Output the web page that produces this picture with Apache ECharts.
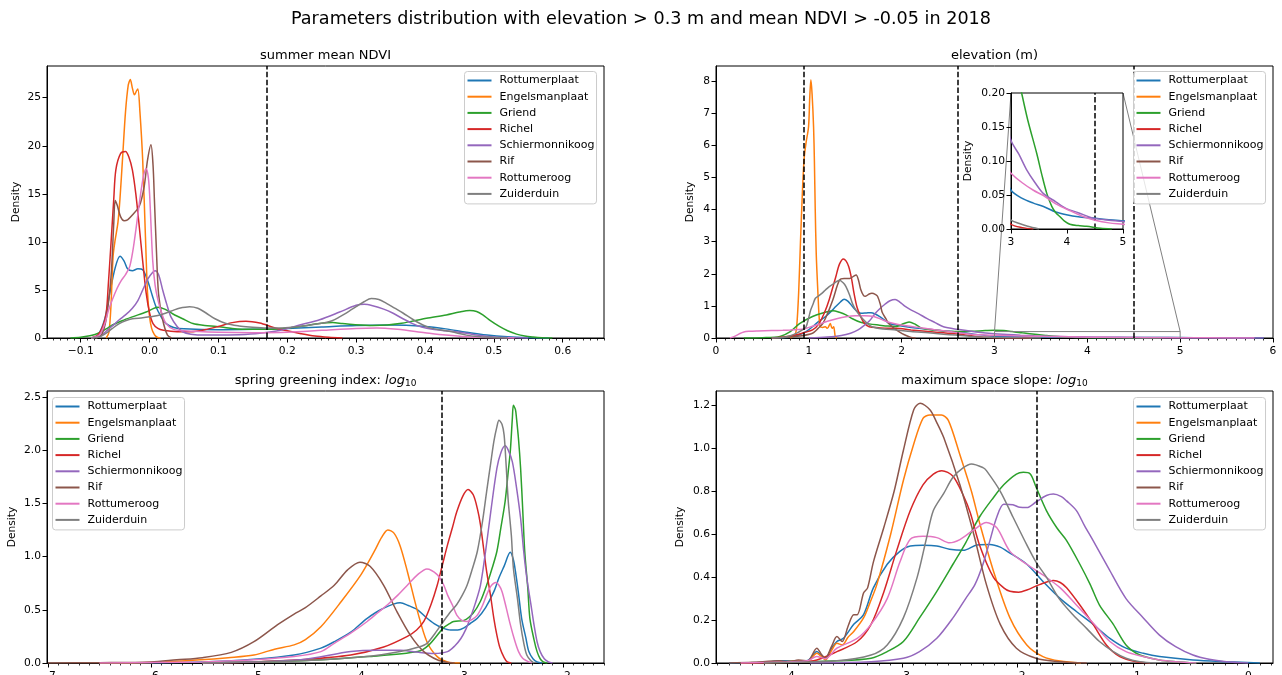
<!DOCTYPE html>
<html><head><meta charset="utf-8">
<script src="https://cdn.jsdelivr.net/npm/echarts@6/dist/echarts.min.js"></script>
<style>html,body{margin:0;padding:0;background:#fff}#c{width:1282px;height:675px}</style>
</head><body><div id="c"></div>
<script>
const FONT = 'DejaVu Sans';
const NAMES = ['Rottumerplaat','Engelsmanplaat','Griend','Richel','Schiermonnikoog','Rif','Rottumeroog','Zuiderduin'];
const COLORS = ['#1f77b4','#ff7f0e','#2ca02c','#d62728','#9467bd','#8c564b','#e377c2','#7f7f7f'];
const SUPTITLE = 'Parameters distribution with elevation > 0.3 m and mean NDVI > -0.05 in 2018';

// ---------- summer mean NDVI ----------
const NDVI_ROTTUMERPLAAT = [[-0.085,0],[-0.075,0.3],[-0.065,2.0],[-0.058,4.6],[-0.05,7.3],[-0.043,8.5],[-0.037,8.0],[-0.032,7.2],[-0.025,7.0],[-0.017,7.2],[-0.01,7.1],[-0.003,6.0],[0.004,4.4],[0.009,3.3],[0.016,2.3],[0.024,1.5],[0.035,1.1],[0.05,0.95],[0.1,0.85],[0.15,0.9],[0.2,1.0],[0.25,1.15],[0.3,1.3],[0.35,1.35],[0.4,1.2],[0.43,0.95],[0.46,0.6],[0.49,0.3],[0.52,0.12],[0.55,0.03],[0.58,0]];
const NDVI_ENGELSMANPLAAT = [[-0.063,0],[-0.059,0.6],[-0.056,3.5],[-0.053,8.5],[-0.05,10.2],[-0.046,12.0],[-0.043,14.5],[-0.039,19.0],[-0.035,23.5],[-0.031,26.3],[-0.028,26.9],[-0.025,26.0],[-0.022,25.3],[-0.019,25.7],[-0.017,25.9],[-0.014,23.5],[-0.01,18.5],[-0.006,10.5],[-0.003,4.7],[0.0,2.2],[0.003,1.0],[0.007,0.35],[0.011,0.08],[0.016,0]];
const NDVI_GRIEND = [[-0.115,0],[-0.1,0.08],[-0.085,0.25],[-0.073,0.55],[-0.063,0.95],[-0.054,1.35],[-0.04,1.8],[-0.025,2.2],[-0.005,2.7],[0.012,3.2],[0.022,3.0],[0.034,2.5],[0.048,2.0],[0.063,1.5],[0.08,1.3],[0.097,1.2],[0.12,1.0],[0.145,0.9],[0.17,0.9],[0.193,1.0],[0.218,1.2],[0.247,1.5],[0.266,1.6],[0.28,1.5],[0.295,1.4],[0.324,1.3],[0.345,1.35],[0.363,1.5],[0.385,1.8],[0.402,2.05],[0.431,2.4],[0.45,2.7],[0.465,2.85],[0.475,2.75],[0.484,2.4],[0.495,1.8],[0.508,1.2],[0.52,0.75],[0.533,0.4],[0.545,0.2],[0.557,0.1],[0.57,0.03],[0.585,0]];
const NDVI_RICHEL = [[-0.085,0],[-0.075,0.3],[-0.068,1.2],[-0.063,2.6],[-0.06,5.5],[-0.056,9.9],[-0.052,14.5],[-0.049,17.5],[-0.042,19.2],[-0.035,19.4],[-0.03,18.8],[-0.025,17.5],[-0.02,15.0],[-0.015,11.6],[-0.01,8.0],[-0.005,4.7],[0.0,2.6],[0.005,1.5],[0.012,1.0],[0.02,0.8],[0.04,0.65],[0.06,0.65],[0.08,0.85],[0.1,1.2],[0.12,1.6],[0.14,1.75],[0.16,1.55],[0.18,1.1],[0.2,0.75],[0.22,0.45],[0.24,0.2],[0.26,0.07],[0.28,0]];
const NDVI_SCHIERMONNIKOOG = [[-0.085,0],[-0.07,0.3],[-0.06,0.9],[-0.05,1.5],[-0.044,1.9],[-0.035,2.4],[-0.025,3.1],[-0.017,3.9],[-0.01,5.0],[-0.002,6.2],[0.004,6.8],[0.008,7.0],[0.013,6.6],[0.019,5.0],[0.025,3.5],[0.031,2.2],[0.04,1.2],[0.048,0.65],[0.06,0.4],[0.08,0.3],[0.1,0.3],[0.13,0.35],[0.16,0.5],[0.19,0.8],[0.218,1.35],[0.247,1.9],[0.276,2.7],[0.3,3.4],[0.312,3.5],[0.324,3.35],[0.34,3.0],[0.353,2.6],[0.368,2.0],[0.382,1.5],[0.395,1.15],[0.411,0.9],[0.43,0.75],[0.445,0.65],[0.46,0.5],[0.475,0.3],[0.5,0.1],[0.53,0.02],[0.55,0]];
const NDVI_RIF = [[-0.078,0],[-0.07,0.3],[-0.063,2.0],[-0.056,6.4],[-0.052,12.0],[-0.05,14.3],[-0.047,13.8],[-0.042,12.6],[-0.037,12.2],[-0.032,12.3],[-0.025,12.8],[-0.015,13.7],[-0.008,15.7],[-0.003,18.5],[0.002,20.1],[0.005,18.0],[0.007,14.4],[0.01,9.0],[0.013,4.6],[0.019,1.9],[0.026,0.3],[0.032,0]];
const NDVI_ROTTUMEROOG = [[-0.085,0],[-0.073,0.3],[-0.065,1.5],[-0.06,2.8],[-0.054,4.0],[-0.047,5.2],[-0.041,6.0],[-0.035,6.6],[-0.029,7.4],[-0.024,9.2],[-0.02,11.2],[-0.014,14.5],[-0.009,16.8],[-0.005,17.6],[-0.002,16.8],[0.0,15.0],[0.0045,8.1],[0.008,5.5],[0.012,4.0],[0.018,2.5],[0.024,1.5],[0.035,0.9],[0.05,0.75],[0.1,0.6],[0.15,0.55],[0.2,0.6],[0.25,0.8],[0.3,1.0],[0.33,1.05],[0.36,0.9],[0.4,0.55],[0.43,0.3],[0.46,0.12],[0.5,0.03],[0.53,0]];
const NDVI_ZUIDERDUIN = [[-0.085,0],[-0.073,0.1],[-0.063,0.5],[-0.054,1.0],[-0.044,1.5],[-0.035,1.8],[-0.025,2.0],[-0.01,2.1],[0.0,2.2],[0.012,2.35],[0.024,2.6],[0.035,2.9],[0.043,3.1],[0.058,3.26],[0.07,3.1],[0.082,2.6],[0.095,2.0],[0.111,1.5],[0.13,1.25],[0.145,1.15],[0.17,1.05],[0.193,1.05],[0.218,1.2],[0.247,1.5],[0.265,1.8],[0.276,2.2],[0.29,2.8],[0.3,3.26],[0.312,3.8],[0.322,4.1],[0.333,4.0],[0.344,3.6],[0.356,3.1],[0.368,2.6],[0.382,1.95],[0.397,1.35],[0.41,1.0],[0.426,0.8],[0.445,0.55],[0.46,0.3],[0.48,0.12],[0.5,0.04],[0.52,0]];
const NDVI_CUTOFFS = [0.17];
const NDVI_XTICKS = [-0.1,0,0.1,0.2,0.3,0.4,0.5,0.6];
const NDVI_YTICKS = [0,5,10,15,20,25];

// ---------- elevation (m) ----------
const ELEV_ROTTUMERPLAAT = [[0.6,0],[0.8,0.02],[0.9,0.1],[0.97,0.2],[1.04,0.35],[1.1,0.5],[1.18,0.67],[1.24,0.83],[1.29,0.98],[1.34,1.12],[1.38,1.21],[1.42,1.15],[1.47,0.98],[1.52,0.83],[1.56,0.77],[1.62,0.78],[1.67,0.79],[1.72,0.74],[1.76,0.67],[1.82,0.55],[1.87,0.45],[1.95,0.4],[2.05,0.35],[2.15,0.31],[2.29,0.27],[2.45,0.22],[2.58,0.19],[2.75,0.13],[2.9,0.08],[3.0,0.057],[3.2,0.045],[3.4,0.038],[3.58,0.033],[3.8,0.025],[3.99,0.021],[4.2,0.018],[4.47,0.016],[4.7,0.014],[5.0,0.012],[5.3,0.008],[5.6,0.003],[5.9,0]];
const ELEV_ENGELSMANPLAAT = [[0.8,0],[0.85,0.1],[0.869,0.35],[0.89,1.39],[0.91,3.0],[0.933,4.7],[0.95,5.6],[0.969,6.06],[0.997,6.58],[1.01,7.5],[1.022,8.04],[1.035,7.6],[1.051,6.58],[1.06,5.5],[1.069,4.0],[1.08,2.6],[1.098,1.39],[1.11,0.7],[1.123,0.35],[1.15,0.33],[1.177,0.35],[1.2,0.3],[1.231,0.45],[1.25,0.3],[1.267,0.35],[1.285,0.04],[1.3,0]];
const ELEV_GRIEND = [[0.3,0],[0.5,0.01],[0.69,0.05],[0.8,0.2],[0.9,0.45],[1.04,0.67],[1.15,0.78],[1.26,0.85],[1.33,0.8],[1.4,0.72],[1.47,0.6],[1.55,0.5],[1.65,0.44],[1.76,0.4],[1.85,0.37],[1.94,0.36],[2.0,0.42],[2.08,0.5],[2.15,0.42],[2.22,0.3],[2.35,0.25],[2.45,0.22],[2.58,0.2],[2.75,0.21],[2.9,0.23],[3.0,0.24],[3.1,0.235],[3.19,0.2],[3.3,0.16],[3.46,0.111],[3.55,0.08],[3.64,0.052],[3.73,0.033],[3.8,0.024],[3.875,0.018],[3.95,0.012],[4.05,0.007],[4.2,0.005],[4.35,0.004],[4.6,0.001],[4.8,0]];
const ELEV_RICHEL = [[0.6,0],[0.7,0.02],[0.8,0.06],[0.869,0.1],[0.95,0.17],[1.04,0.25],[1.11,0.45],[1.17,0.8],[1.22,1.2],[1.29,1.9],[1.33,2.3],[1.372,2.46],[1.4,2.4],[1.43,2.22],[1.46,1.85],[1.487,1.39],[1.52,0.95],[1.558,0.67],[1.6,0.45],[1.65,0.35],[1.75,0.32],[1.85,0.3],[1.936,0.3],[2.1,0.25],[2.29,0.2],[2.45,0.16],[2.58,0.13],[2.75,0.07],[2.9,0.02],[3.0,0.007],[3.2,0.002],[3.4,0]];
const ELEV_SCHIERMONNIKOOG = [[1.0,0],[1.2,0.03],[1.35,0.08],[1.45,0.15],[1.53,0.25],[1.6,0.4],[1.659,0.55],[1.71,0.75],[1.767,0.92],[1.82,1.05],[1.874,1.16],[1.93,1.2],[1.98,1.12],[2.03,1.0],[2.09,0.89],[2.18,0.76],[2.27,0.61],[2.36,0.48],[2.45,0.35],[2.6,0.27],[2.8,0.19],[3.0,0.13],[3.14,0.11],[3.28,0.087],[3.43,0.068],[3.58,0.052],[3.8,0.04],[3.99,0.03],[4.2,0.024],[4.47,0.016],[4.75,0.013],[5.0,0.011],[5.3,0.007],[5.6,0.003],[5.9,0]];
const ELEV_RIF = [[0.6,0],[0.75,0.02],[0.9,0.06],[1.04,0.15],[1.1,0.3],[1.15,0.45],[1.2,0.75],[1.26,1.2],[1.33,1.8],[1.38,1.85],[1.44,1.85],[1.48,1.92],[1.51,1.96],[1.535,1.8],[1.56,1.5],[1.59,1.32],[1.61,1.3],[1.65,1.37],[1.68,1.39],[1.72,1.35],[1.74,1.3],[1.77,1.05],[1.79,0.8],[1.83,0.6],[1.86,0.45],[1.92,0.3],[1.97,0.2],[2.03,0.1],[2.1,0.02],[2.15,0]];
const ELEV_ROTTUMEROOG = [[0.15,0],[0.2,0.05],[0.25,0.13],[0.3,0.19],[0.36,0.21],[0.45,0.22],[0.6,0.23],[0.72,0.24],[0.8,0.25],[0.93,0.27],[1.0,0.33],[1.1,0.42],[1.2,0.52],[1.3,0.6],[1.4,0.66],[1.5,0.69],[1.6,0.69],[1.7,0.67],[1.78,0.58],[1.85,0.5],[1.95,0.43],[2.05,0.38],[2.2,0.32],[2.35,0.26],[2.5,0.21],[2.6,0.17],[2.75,0.12],[2.9,0.095],[3.0,0.082],[3.2,0.068],[3.4,0.057],[3.58,0.049],[3.8,0.037],[4.05,0.027],[4.3,0.018],[4.5,0.013],[4.75,0.009],[5.0,0.007],[5.3,0.004],[5.6,0.001],[5.8,0]];
const ELEV_ZUIDERDUIN = [[0.6,0],[0.75,0.03],[0.87,0.15],[0.93,0.25],[0.97,0.35],[1.0,0.65],[1.02,0.87],[1.045,1.05],[1.069,1.23],[1.1,1.3],[1.14,1.39],[1.18,1.5],[1.22,1.6],[1.28,1.72],[1.33,1.8],[1.37,1.72],[1.4,1.6],[1.44,1.33],[1.47,1.07],[1.51,0.85],[1.558,0.67],[1.62,0.48],[1.68,0.35],[1.8,0.28],[1.94,0.25],[2.1,0.2],[2.29,0.16],[2.45,0.12],[2.58,0.09],[2.75,0.05],[2.9,0.025],[3.0,0.013],[3.15,0.008],[3.3,0.004],[3.5,0]];
const ELEV_CUTOFFS = [0.936, 2.6, 4.5];
const ELEV_XTICKS = [0,1,2,3,4,5,6];
const ELEV_YTICKS = [0,1,2,3,4,5,6,7,8];
const INSET_X = [3, 5];
const INSET_Y = [0, 0.2];
const INSET_XTICKS = [3,4,5];
const INSET_YTICKS = [0,0.05,0.1,0.15,0.2];
const INSET_CUTOFFS = [4.5];

// ---------- spring greening index: log10 ----------
const SGI_ROTTUMERPLAAT = [[-6.5,0],[-5.5,0.01],[-5.0,0.035],[-4.61,0.075],[-4.35,0.14],[-4.22,0.2],[-4.06,0.29],[-3.9,0.42],[-3.75,0.51],[-3.58,0.565],[-3.5,0.54],[-3.41,0.5],[-3.33,0.43],[-3.25,0.37],[-3.17,0.33],[-3.09,0.31],[-3.02,0.31],[-2.96,0.33],[-2.9,0.37],[-2.83,0.42],[-2.75,0.52],[-2.67,0.67],[-2.62,0.8],[-2.57,0.91],[-2.51,1.04],[-2.48,0.97],[-2.46,0.86],[-2.43,0.65],[-2.4,0.42],[-2.36,0.24],[-2.33,0.107],[-2.29,0.04],[-2.25,0.01],[-2.2,0]];
const SGI_ENGELSMANPLAAT = [[-6.5,0],[-6.0,0.005],[-5.52,0.03],[-5.25,0.05],[-5.0,0.075],[-4.8,0.13],[-4.61,0.17],[-4.5,0.22],[-4.35,0.34],[-4.15,0.58],[-3.96,0.83],[-3.83,1.05],[-3.76,1.18],[-3.7,1.25],[-3.64,1.22],[-3.58,1.1],[-3.51,0.86],[-3.41,0.48],[-3.32,0.2],[-3.22,0.06],[-3.12,0.01],[-3.0,0]];
const SGI_GRIEND = [[-5.5,0],[-4.55,0.02],[-3.9,0.06],[-3.41,0.107],[-3.3,0.17],[-3.16,0.33],[-3.1,0.37],[-3.06,0.39],[-2.96,0.4],[-2.87,0.47],[-2.8,0.58],[-2.74,0.73],[-2.69,0.88],[-2.64,1.05],[-2.6,1.28],[-2.56,1.52],[-2.53,1.8],[-2.51,1.99],[-2.49,2.3],[-2.48,2.42],[-2.46,2.38],[-2.45,2.3],[-2.43,2.1],[-2.41,1.83],[-2.39,1.45],[-2.37,1.05],[-2.34,0.7],[-2.32,0.42],[-2.28,0.22],[-2.25,0.107],[-2.22,0.04],[-2.19,0.01],[-2.15,0]];
const SGI_RICHEL = [[-5.5,0],[-5.0,0.01],[-4.55,0.03],[-4.06,0.075],[-3.74,0.15],[-3.51,0.25],[-3.42,0.31],[-3.35,0.39],[-3.28,0.55],[-3.22,0.73],[-3.17,0.92],[-3.12,1.11],[-3.07,1.28],[-3.03,1.42],[-2.97,1.57],[-2.92,1.63],[-2.87,1.58],[-2.83,1.45],[-2.8,1.3],[-2.77,1.08],[-2.74,0.86],[-2.7,0.62],[-2.67,0.42],[-2.64,0.26],[-2.61,0.14],[-2.57,0.05],[-2.54,0.01],[-2.5,0]];
const SGI_SCHIERMONNIKOOG = [[-5.5,0],[-4.55,0.03],[-4.06,0.107],[-3.8,0.12],[-3.58,0.12],[-3.4,0.1],[-3.25,0.09],[-3.12,0.107],[-3.05,0.16],[-2.99,0.23],[-2.94,0.32],[-2.9,0.42],[-2.85,0.56],[-2.8,0.73],[-2.75,1.05],[-2.7,1.42],[-2.64,1.83],[-2.6,1.98],[-2.56,2.04],[-2.53,2.0],[-2.49,1.89],[-2.45,1.65],[-2.41,1.36],[-2.38,1.05],[-2.35,0.8],[-2.31,0.55],[-2.28,0.36],[-2.25,0.2],[-2.22,0.107],[-2.18,0.04],[-2.14,0.01],[-2.1,0]];
const SGI_RIF = [[-7.0,0],[-6.5,0.003],[-6.0,0.01],[-5.75,0.03],[-5.5,0.05],[-5.22,0.1],[-5.0,0.2],[-4.77,0.36],[-4.61,0.46],[-4.5,0.52],[-4.35,0.63],[-4.22,0.73],[-4.09,0.875],[-3.97,0.947],[-3.87,0.906],[-3.74,0.73],[-3.61,0.48],[-3.48,0.26],[-3.35,0.107],[-3.22,0.03],[-3.12,0.005],[-3.05,0]];
const SGI_ROTTUMEROOG = [[-6.5,0],[-5.5,0.01],[-5.0,0.03],[-4.61,0.06],[-4.35,0.107],[-4.22,0.185],[-4.06,0.28],[-3.9,0.39],[-3.8,0.47],[-3.7,0.55],[-3.6,0.64],[-3.51,0.73],[-3.41,0.83],[-3.32,0.884],[-3.22,0.83],[-3.16,0.74],[-3.12,0.64],[-3.07,0.54],[-3.03,0.45],[-2.98,0.4],[-2.93,0.39],[-2.88,0.41],[-2.83,0.45],[-2.78,0.54],[-2.74,0.64],[-2.7,0.72],[-2.65,0.756],[-2.62,0.73],[-2.59,0.67],[-2.55,0.52],[-2.51,0.36],[-2.47,0.22],[-2.43,0.107],[-2.39,0.045],[-2.35,0.02],[-2.3,0]];
const SGI_ZUIDERDUIN = [[-5.5,0],[-4.55,0.02],[-3.9,0.06],[-3.58,0.107],[-3.4,0.15],[-3.32,0.185],[-3.24,0.28],[-3.16,0.39],[-3.1,0.47],[-3.03,0.55],[-2.98,0.63],[-2.93,0.73],[-2.88,0.88],[-2.83,1.05],[-2.78,1.33],[-2.74,1.61],[-2.7,1.88],[-2.67,2.08],[-2.64,2.22],[-2.62,2.28],[-2.59,2.24],[-2.57,2.14],[-2.55,1.85],[-2.53,1.52],[-2.5,1.2],[-2.48,0.89],[-2.44,0.6],[-2.41,0.36],[-2.38,0.19],[-2.35,0.075],[-2.31,0.02],[-2.28,0]];
const SGI_CUTOFFS = [-3.18];
const SGI_XTICKS = [-7,-6,-5,-4,-3,-2];
const SGI_YTICKS = [0,0.5,1,1.5,2,2.5];

// ---------- maximum space slope: log10 ----------
const SLOPE_ROTTUMERPLAAT = [[-4.5,0],[-4.2,0.003],[-4.056,0.01],[-3.9,0.01],[-3.82,0.012],[-3.74,0.053],[-3.7,0.035],[-3.667,0.022],[-3.61,0.07],[-3.566,0.1],[-3.51,0.115],[-3.42,0.18],[-3.335,0.225],[-3.25,0.35],[-3.13,0.46],[-3.02,0.52],[-2.93,0.545],[-2.82,0.548],[-2.7,0.545],[-2.59,0.53],[-2.47,0.525],[-2.35,0.55],[-2.24,0.552],[-2.15,0.54],[-2.09,0.52],[-1.92,0.46],[-1.78,0.38],[-1.63,0.3],[-1.49,0.24],[-1.345,0.18],[-1.2,0.115],[-1.06,0.069],[-0.91,0.045],[-0.77,0.03],[-0.48,0.014],[-0.19,0.006],[0.1,0]];
const SLOPE_ENGELSMANPLAAT = [[-4.4,0],[-4.06,0.005],[-3.9,0.01],[-3.82,0.008],[-3.74,0.045],[-3.7,0.03],[-3.667,0.014],[-3.61,0.06],[-3.566,0.092],[-3.52,0.084],[-3.47,0.12],[-3.42,0.147],[-3.335,0.21],[-3.28,0.28],[-3.22,0.365],[-3.1,0.6],[-2.99,0.85],[-2.9,1.02],[-2.82,1.14],[-2.76,1.155],[-2.66,1.155],[-2.6,1.13],[-2.5,0.97],[-2.4,0.8],[-2.326,0.646],[-2.21,0.43],[-2.066,0.21],[-1.92,0.084],[-1.78,0.03],[-1.63,0.009],[-1.45,0]];
const SLOPE_GRIEND = [[-4.2,0],[-3.566,0.01],[-3.27,0.022],[-3.13,0.053],[-2.99,0.1],[-2.85,0.21],[-2.7,0.334],[-2.56,0.46],[-2.45,0.56],[-2.33,0.68],[-2.21,0.77],[-2.12,0.83],[-2.01,0.88],[-1.95,0.888],[-1.89,0.88],[-1.84,0.82],[-1.75,0.71],[-1.66,0.63],[-1.575,0.57],[-1.46,0.46],[-1.37,0.365],[-1.29,0.27],[-1.17,0.18],[-1.06,0.084],[-0.94,0.037],[-0.77,0.014],[-0.63,0.006],[-0.45,0]];
const SLOPE_RICHEL = [[-4.4,0],[-3.9,0.005],[-3.74,0.014],[-3.566,0.053],[-3.39,0.1],[-3.27,0.18],[-3.16,0.33],[-3.05,0.52],[-2.93,0.71],[-2.82,0.83],[-2.73,0.88],[-2.657,0.896],[-2.56,0.87],[-2.47,0.78],[-2.41,0.7],[-2.33,0.55],[-2.21,0.4],[-2.12,0.35],[-2.066,0.334],[-1.99,0.33],[-1.92,0.34],[-1.81,0.365],[-1.69,0.384],[-1.63,0.375],[-1.575,0.35],[-1.46,0.27],[-1.345,0.18],[-1.23,0.084],[-1.114,0.03],[-0.97,0.006],[-0.85,0]];
const SLOPE_SCHIERMONNIKOOG = [[-3.8,0],[-3.27,0.006],[-2.99,0.022],[-2.85,0.053],[-2.7,0.115],[-2.56,0.21],[-2.45,0.3],[-2.37,0.365],[-2.3,0.46],[-2.24,0.57],[-2.18,0.68],[-2.12,0.74],[-2.04,0.737],[-1.98,0.725],[-1.92,0.724],[-1.84,0.75],[-1.75,0.78],[-1.69,0.787],[-1.62,0.775],[-1.575,0.755],[-1.49,0.71],[-1.42,0.64],[-1.345,0.57],[-1.2,0.43],[-1.06,0.3],[-0.91,0.21],[-0.77,0.13],[-0.63,0.076],[-0.48,0.037],[-0.34,0.017],[-0.19,0.006],[0.0,0]];
const SLOPE_RIF = [[-4.5,0],[-4.3,0.003],[-4.06,0.01],[-3.98,0.005],[-3.9,0.014],[-3.82,0.01],[-3.74,0.069],[-3.7,0.04],[-3.667,0.022],[-3.61,0.08],[-3.566,0.123],[-3.52,0.1],[-3.47,0.17],[-3.42,0.225],[-3.39,0.225],[-3.335,0.326],[-3.3,0.35],[-3.25,0.47],[-3.16,0.63],[-3.07,0.8],[-2.99,0.99],[-2.9,1.18],[-2.845,1.21],[-2.76,1.18],[-2.7,1.12],[-2.64,1.05],[-2.5,0.83],[-2.38,0.6],[-2.27,0.365],[-2.15,0.18],[-2.01,0.069],[-1.84,0.022],[-1.64,0.006],[-1.4,0]];
const SLOPE_ROTTUMEROOG = [[-4.4,0],[-4.0,0.005],[-3.82,0.01],[-3.74,0.03],[-3.7,0.025],[-3.667,0.02],[-3.566,0.069],[-3.39,0.115],[-3.27,0.18],[-3.13,0.3],[-3.02,0.47],[-2.93,0.576],[-2.82,0.59],[-2.7,0.584],[-2.59,0.56],[-2.5,0.575],[-2.38,0.62],[-2.27,0.654],[-2.18,0.63],[-2.066,0.52],[-1.92,0.46],[-1.78,0.41],[-1.63,0.35],[-1.49,0.27],[-1.345,0.186],[-1.2,0.1],[-1.06,0.053],[-0.91,0.03],[-0.77,0.014],[-0.63,0.006],[-0.45,0]];
const SLOPE_ZUIDERDUIN = [[-4.2,0],[-3.566,0.01],[-3.27,0.037],[-3.13,0.084],[-2.99,0.21],[-2.87,0.4],[-2.79,0.58],[-2.73,0.71],[-2.64,0.79],[-2.56,0.865],[-2.47,0.91],[-2.4,0.927],[-2.3,0.91],[-2.27,0.896],[-2.15,0.8],[-2.04,0.68],[-1.92,0.55],[-1.84,0.47],[-1.75,0.4],[-1.64,0.3],[-1.52,0.225],[-1.4,0.16],[-1.29,0.1],[-1.17,0.053],[-1.06,0.022],[-0.94,0.006],[-0.8,0]];
const SLOPE_CUTOFFS = [-1.83];
const SLOPE_XTICKS = [-4,-3,-2,-1,0];
const SLOPE_YTICKS = [0,0.2,0.4,0.6,0.8,1.0,1.2];

// ---------- layout ----------
const GRIDS = [
  {left:47, top:66, width:557, height:272},
  {left:716, top:66, width:557, height:272},
  {left:47, top:391, width:557, height:272},
  {left:716, top:391, width:557, height:272},
  {left:1011, top:93, width:112, height:136}
];
const PANELS = [
  {series:[NDVI_ROTTUMERPLAAT,NDVI_ENGELSMANPLAAT,NDVI_GRIEND,NDVI_RICHEL,NDVI_SCHIERMONNIKOOG,NDVI_RIF,NDVI_ROTTUMEROOG,NDVI_ZUIDERDUIN],
   xMin:-0.149, xMax:0.66, yMax:28.3, xTicks:NDVI_XTICKS, yTicks:NDVI_YTICKS, xDec:1, yDec:0, minor:0.01, cut:NDVI_CUTOFFS, nameGap:25},
  {series:[ELEV_ROTTUMERPLAAT,ELEV_ENGELSMANPLAAT,ELEV_GRIEND,ELEV_RICHEL,ELEV_SCHIERMONNIKOOG,ELEV_RIF,ELEV_ROTTUMEROOG,ELEV_ZUIDERDUIN],
   xMin:0, xMax:6, yMax:8.47, xTicks:ELEV_XTICKS, yTicks:ELEV_YTICKS, xDec:0, yDec:0, minor:0.1, cut:ELEV_CUTOFFS, nameGap:20},
  {series:[SGI_ROTTUMERPLAAT,SGI_ENGELSMANPLAAT,SGI_GRIEND,SGI_RICHEL,SGI_SCHIERMONNIKOOG,SGI_RIF,SGI_ROTTUMEROOG,SGI_ZUIDERDUIN],
   xMin:-7.01, xMax:-1.6, yMax:2.555, xTicks:SGI_XTICKS, yTicks:SGI_YTICKS, xDec:0, yDec:1, minor:0.1, cut:SGI_CUTOFFS, nameGap:29},
  {series:[SLOPE_ROTTUMERPLAAT,SLOPE_ENGELSMANPLAAT,SLOPE_GRIEND,SLOPE_RICHEL,SLOPE_SCHIERMONNIKOOG,SLOPE_RIF,SLOPE_ROTTUMEROOG,SLOPE_ZUIDERDUIN],
   xMin:-4.614, xMax:0.214, yMax:1.267, xTicks:SLOPE_XTICKS, yTicks:SLOPE_YTICKS, xDec:0, yDec:1, minor:0.1, cut:SLOPE_CUTOFFS, nameGap:30}
];

function fmt(v, d) { const s = Math.abs(v).toFixed(d); return (v < -1e-12 ? '\u2212' : '') + s; }
function steps(a, b, st) { const o = []; const i0 = Math.ceil(a / st - 1e-9), i1 = Math.floor(b / st + 1e-9); for (let i = i0; i <= i1; i++) o.push(+(i * st).toFixed(6)); return o; }
const BLACK = '#000';
const LBL = {color: BLACK, fontFamily: FONT, fontSize: 10.7};

const xAxes = [], yAxes = [], series = [];
function addAxes(gi, p, withMinor, labelMargin, zAx) {
  const xi = xAxes.length;
  xAxes.push({gridIndex: gi, type: 'value', min: p.xMin, max: p.xMax, position: 'bottom', z: zAx,
    axisLine: {show: true, onZero: false, lineStyle: {color: BLACK, width: 1}},
    axisTick: {show: true, customValues: p.xTicks, length: 4.5, lineStyle: {color: BLACK, width: 1}},
    axisLabel: Object.assign({customValues: p.xTicks, margin: labelMargin, formatter: v => fmt(v, p.xDec)}, LBL),
    splitLine: {show: false}});
  if (withMinor) {
    xAxes.push({gridIndex: gi, type: 'value', min: p.xMin, max: p.xMax, position: 'bottom', z: zAx,
      axisLine: {show: false, onZero: false},
      axisTick: {show: true, customValues: steps(p.xMin, p.xMax, p.minor), length: 2.5, lineStyle: {color: BLACK, width: 0.8}},
      axisLabel: {show: false}, splitLine: {show: false}});
  }
  const yi = yAxes.length;
  yAxes.push({gridIndex: gi, type: 'value', min: 0, max: p.yMax, z: zAx,
    axisLine: {show: true, onZero: false, lineStyle: {color: BLACK, width: 1}},
    axisTick: {show: true, customValues: p.yTicks, length: 4.5, lineStyle: {color: BLACK, width: 1}},
    axisLabel: Object.assign({customValues: p.yTicks, margin: 6, formatter: v => fmt(v, p.yDec)}, LBL),
    splitLine: {show: false},
    name: 'Density', nameLocation: 'middle', nameGap: p.nameGap, nameTextStyle: LBL});
  return [xi, yi];
}
function addSeries(xi, yi, p, zBase) {
  p.series.forEach((d, k) => series.push({type: 'line', name: NAMES[k], xAxisIndex: xi, yAxisIndex: yi, data: d,
    showSymbol: false, symbol: 'none', smooth: 0.3, clip: true, silent: true,
    lineStyle: {width: 1.5, color: COLORS[k]}, itemStyle: {color: COLORS[k]}, z: zBase + k * 0.01}));
  series.push({type: 'line', xAxisIndex: xi, yAxisIndex: yi, data: [], silent: true, z: zBase + 0.5,
    markLine: {symbol: 'none', silent: true, label: {show: false}, animation: false,
      lineStyle: {color: BLACK, width: 1.5, type: [5.5, 2.4]},
      data: p.cut.map(v => ({xAxis: v}))}});
}
const idx = [];
PANELS.forEach((p, i) => { const [xi, yi] = addAxes(i, p, true, 8, 0); idx.push([xi, yi]); addSeries(xi, yi, p, 2); });

// inset
const insetP = {series: PANELS[1].series, xMin: INSET_X[0], xMax: INSET_X[1], yMax: INSET_Y[1], xTicks: INSET_XTICKS, yTicks: INSET_YTICKS, xDec: 0, yDec: 2, cut: INSET_CUTOFFS, nameGap: 37};
const [inX, inY] = addAxes(4, insetP, false, 8, 5);
yAxes[inY].min = INSET_Y[0];
addSeries(inX, inY, insetP, 6);
// inset indicator rectangle in the elevation panel
series.push({type: 'line', xAxisIndex: idx[1][0], yAxisIndex: idx[1][1], silent: true, symbol: 'none', showSymbol: false, z: 3,
  data: [[INSET_X[0], INSET_Y[0]], [INSET_X[0], INSET_Y[1]], [INSET_X[1], INSET_Y[1]], [INSET_X[1], INSET_Y[0]]],
  lineStyle: {color: '#808080', width: 1}});

function legendAt(left, top) {
  return {orient: 'vertical', left, top, data: NAMES, icon: 'rect', itemWidth: 24, itemHeight: 2, itemGap: 4.2,
    padding: [3, 2, 4, 3], backgroundColor: 'rgba(255,255,255,0.8)', borderColor: '#cccccc', borderWidth: 1, borderRadius: 3,
    selectedMode: false, z: 8,
    textStyle: {fontFamily: FONT, fontSize: 11, color: BLACK, lineHeight: 12, padding: [0, 0, 0, 3]}};
}
const TSTYLE = {fontFamily: FONT, fontSize: 13, fontWeight: 'normal', color: BLACK, lineHeight: 16,
  rich: {it: {fontFamily: FONT, fontSize: 13, fontStyle: 'italic', color: BLACK, lineHeight: 16, verticalAlign: 'middle'},
         sub: {fontFamily: FONT, fontSize: 9, color: BLACK, lineHeight: 9, verticalAlign: 'bottom'}}};
const option = {
  animation: false,
  backgroundColor: '#fff',
  textStyle: {fontFamily: FONT},
  title: [
    {text: SUPTITLE, left: 641, top: 10, textAlign: 'center', padding: 0, textStyle: {fontFamily: FONT, fontSize: 17.6, fontWeight: 'normal', color: BLACK}},
    {text: 'summer mean NDVI', left: 325.5, top: 47.5, textAlign: 'center', padding: 0, textStyle: TSTYLE},
    {text: 'elevation (m)', left: 994.5, top: 47.5, textAlign: 'center', padding: 0, textStyle: TSTYLE},
    {text: 'spring greening index: {it|log}{sub|10}', left: 325.5, top: 372.5, textAlign: 'center', padding: 0, textStyle: TSTYLE},
    {text: 'maximum space slope: {it|log}{sub|10}', left: 994.5, top: 372.5, textAlign: 'center', padding: 0, textStyle: TSTYLE}
  ],
  grid: GRIDS.map((g, i) => Object.assign({show: true, borderColor: BLACK, borderWidth: 1, backgroundColor: i === 4 ? '#fff' : 'transparent',
    containLabel: false, outerBoundsMode: 'none', z: i === 4 ? 4 : 0}, g)),
  xAxis: xAxes,
  yAxis: yAxes,
  legend: [legendAt(464.5, 71.5), legendAt(1133.5, 71.5), legendAt(52.5, 397.5), legendAt(1133.5, 397.5)],
  series
};
const chart = echarts.init(document.getElementById('c'), null, {renderer: 'canvas'});
chart.setOption(option);
// connector lines from indicator rectangle to inset corners
const mainF = {xAxisIndex: idx[1][0], yAxisIndex: idx[1][1]};
const inF = {xAxisIndex: inX, yAxisIndex: inY};
const a1 = chart.convertToPixel(mainF, [INSET_X[0], INSET_Y[1]]);
const b1 = chart.convertToPixel(inF, [INSET_X[0], INSET_Y[1]]);
const a2 = chart.convertToPixel(mainF, [INSET_X[1], INSET_Y[1]]);
const b2 = chart.convertToPixel(inF, [INSET_X[1], INSET_Y[1]]);
chart.setOption({graphic: {elements: [
  {type: 'line', z: 3, silent: true, shape: {x1: a1[0], y1: a1[1], x2: b1[0], y2: b1[1]}, style: {stroke: '#808080', lineWidth: 1}},
  {type: 'line', z: 3, silent: true, shape: {x1: a2[0], y1: a2[1], x2: b2[0], y2: b2[1]}, style: {stroke: '#808080', lineWidth: 1}}
]}});
</script>
</body></html>
